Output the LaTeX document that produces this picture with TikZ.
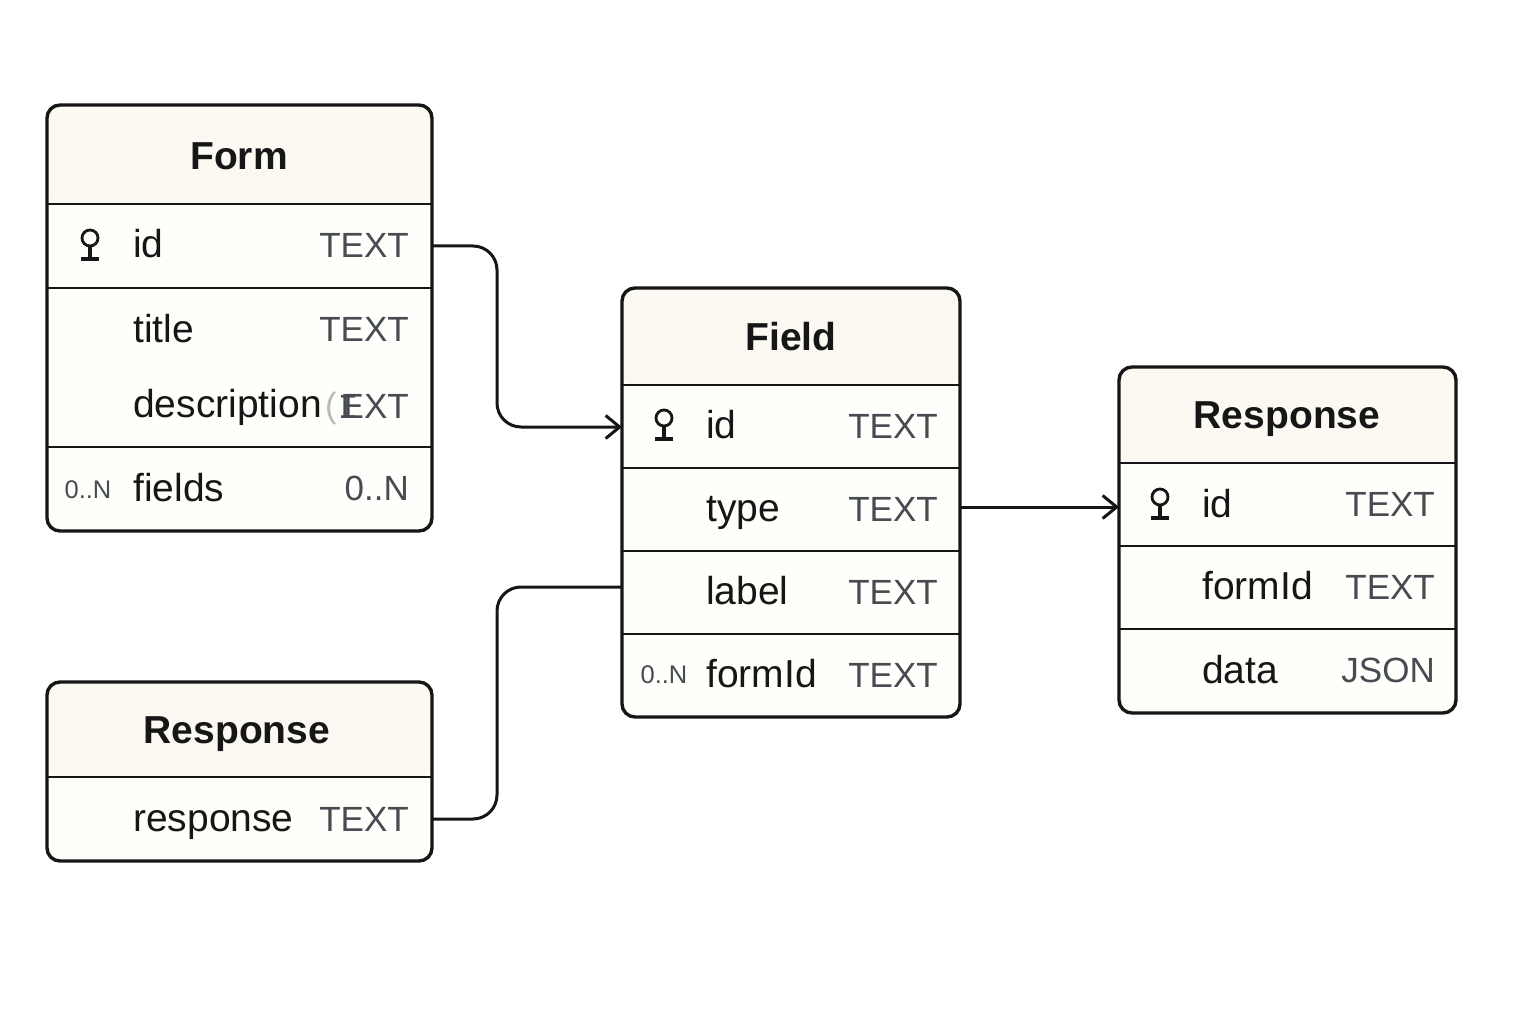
\documentclass[tikz,border=0pt]{standalone}
\usepackage{fontspec}
\setmainfont{Liberation Sans}
\newfontfamily\keyfont{Liberation Mono}
\usetikzlibrary{positioning, arrows.meta}
\definecolor{headfill}{HTML}{FBF9F1}
\definecolor{bodyfill}{HTML}{FEFEFA}
\definecolor{inkblack}{HTML}{161616}
\definecolor{typegray}{HTML}{474B52}
\tikzset{
  tablebox/.style={draw=inkblack, line width=3.4pt, fill=bodyfill, rounded corners=13pt, inner sep=0pt, outer sep=0pt, anchor=north west},
  head/.style={path picture={\fill[headfill] (path picture bounding box.north west) rectangle ([yshift=-#1]path picture bounding box.north east);}},
  rowbox/.style={inner sep=0pt, outer sep=0pt, anchor=north west},
  sepline/.style={draw=inkblack, line width=2.8pt},
  tabletitle/.style={font=\fontsize{39}{39}\selectfont\bfseries, text=inkblack, anchor=base},
  attrname/.style={font=\fontsize{39}{39}\selectfont, text=inkblack, anchor=base west, inner sep=0pt},
  attrtype/.style={font=\fontsize{35}{35}\selectfont, text=typegray, anchor=base east, inner sep=0pt},
  multiplicity/.style={font=\fontsize{25.5}{25.5}\selectfont, text=typegray, anchor=base, inner sep=0pt},
  link/.style={draw=inkblack, line width=3pt, rounded corners=24pt},
  linkarrow/.style={link, -{Straight Barb[length=14pt, width=23pt, line width=3pt]}},
  keyicon/.pic={
    \draw[inkblack, line width=2.8pt] (0,7) circle (8);
    \draw[inkblack, line width=3.2pt] (0,-1) -- (0,-14);
    \draw[inkblack, line width=3.2pt] (-9,-14) -- (9,-14);
  }
}

\begin{document}
\begin{tikzpicture}[x=1pt, y=1pt]
\useasboundingbox[fill=white] (0,0) rectangle (1536,-1024);

\node[tablebox, head=99pt, minimum width=385pt, minimum height=426pt](form) at (47,-105){};
\node[rowbox, minimum width=385pt, minimum height=84pt](formid) at (47,-204){};
\node[rowbox, minimum width=385pt, minimum height=79pt](formtitle) at (47,-288){};
\node[rowbox, minimum width=385pt, minimum height=80pt](formdesc) at (47,-367){};
\node[rowbox, minimum width=385pt, minimum height=84pt](formfields) at (47,-447){};
\draw[sepline] (formid.north west) -- (formid.north east);
\draw[sepline] (formtitle.north west) -- (formtitle.north east);
\draw[sepline] (formfields.north west) -- (formfields.north east);
\node[tabletitle](formhead) at (239,-170){Form};
\pic at (90,-245) {keyicon};
\node[attrname] at ([shift={(86,-12)}]formid.west){id};
\node[attrtype] at ([shift={(-23,-12)}]formid.east){TEXT};
\node[attrname] at ([shift={(86,-15)}]formtitle.west){title};
\node[attrtype] at ([shift={(-23,-14)}]formtitle.east){TEXT};
\node[attrname](formdescname) at ([shift={(86,-10)}]formdesc.west){description};
\node[attrtype, text=gray!55, anchor=base west] at (325,-417){(};
\node[attrtype] at ([shift={(-23,-11)}]formdesc.east){{\keyfont I}\kern-18pt EXT};
\node[multiplicity] at ([shift={(41,-9)}]formfields.west){0..N};
\node[attrname] at ([shift={(86,-12)}]formfields.west){fields};
\node[attrtype] at ([shift={(-23,-11)}]formfields.east){0..N};

\node[tablebox, head=95pt, minimum width=385pt, minimum height=179pt](resp) at (47,-682){};
\node[rowbox, minimum width=385pt, minimum height=84pt](respval) at (47,-777){};
\draw[sepline] (respval.north west) -- (respval.north east);
\node[tabletitle](resphead) at (237,-743){Response};
\node[attrname] at ([shift={(86,-12)}]respval.west){response};
\node[attrtype] at ([shift={(-23,-12)}]respval.east){TEXT};

\node[tablebox, head=97pt, minimum width=338pt, minimum height=429pt](field) at (622,-288){};
\node[rowbox, minimum width=338pt, minimum height=83pt](fieldid) at (622,-385){};
\node[rowbox, minimum width=338pt, minimum height=83pt](fieldtype) at (622,-468){};
\node[rowbox, minimum width=338pt, minimum height=83pt](fieldlabel) at (622,-551){};
\node[rowbox, minimum width=338pt, minimum height=83pt](fieldform) at (622,-634){};
\foreach \rowname in {fieldid, fieldtype, fieldlabel, fieldform}
  \draw[sepline] (\rowname.north west) -- (\rowname.north east);
\node[tabletitle](fieldhead) at (791,-350){Field};
\pic at (664,-425) {keyicon};
\node[attrname] at ([shift={(84,-12)}]fieldid.west){id};
\node[attrtype] at ([shift={(-22,-12)}]fieldid.east){TEXT};
\node[attrname] at ([shift={(84,-12)}]fieldtype.west){type};
\node[attrtype] at ([shift={(-22,-12)}]fieldtype.east){TEXT};
\node[attrname] at ([shift={(84,-12)}]fieldlabel.west){label};
\node[attrtype] at ([shift={(-22,-12)}]fieldlabel.east){TEXT};
\node[multiplicity] at ([shift={(42,-8)}]fieldform.west){0..N};
\node[attrname] at ([shift={(84,-12)}]fieldform.west){formId};
\node[attrtype] at ([shift={(-22,-12)}]fieldform.east){TEXT};

\node[tablebox, head=96pt, minimum width=337pt, minimum height=346pt](result) at (1119,-367){};
\node[rowbox, minimum width=337pt, minimum height=83pt](resultid) at (1119,-463){};
\node[rowbox, minimum width=337pt, minimum height=83pt](resultform) at (1119,-546){};
\node[rowbox, minimum width=337pt, minimum height=84pt](resultdata) at (1119,-629){};
\foreach \rowname in {resultid, resultform, resultdata}
  \draw[sepline] (\rowname.north west) -- (\rowname.north east);
\node[tabletitle](resulthead) at (1287,-428){Response};
\pic at (1160,-504) {keyicon};
\node[attrname] at ([shift={(83,-13)}]resultid.west){id};
\node[attrtype] at ([shift={(-21,-12)}]resultid.east){TEXT};
\node[attrname] at ([shift={(83,-12)}]resultform.west){formId};
\node[attrtype] at ([shift={(-21,-12)}]resultform.east){TEXT};
\node[attrname] at ([shift={(83,-12)}]resultdata.west){data};
\node[attrtype] at ([shift={(-21,-11)}]resultdata.east){JSON};

\coordinate (forminto) at (622,-427);
\coordinate (formbend) at (497,-427);
\coordinate (fieldout) at (960,-507);
\coordinate (fieldinto) at (1119,-507);
\coordinate (respinto) at (622,-587);
\coordinate (respbend) at (497,-587);
\draw[linkarrow] (formid.east) -| (formbend) -- (forminto);
\draw[linkarrow, rounded corners=0pt] (fieldout) -- (fieldinto);
\draw[link] (respval.east) -| (respbend) -- (respinto);
\end{tikzpicture}
\end{document}
